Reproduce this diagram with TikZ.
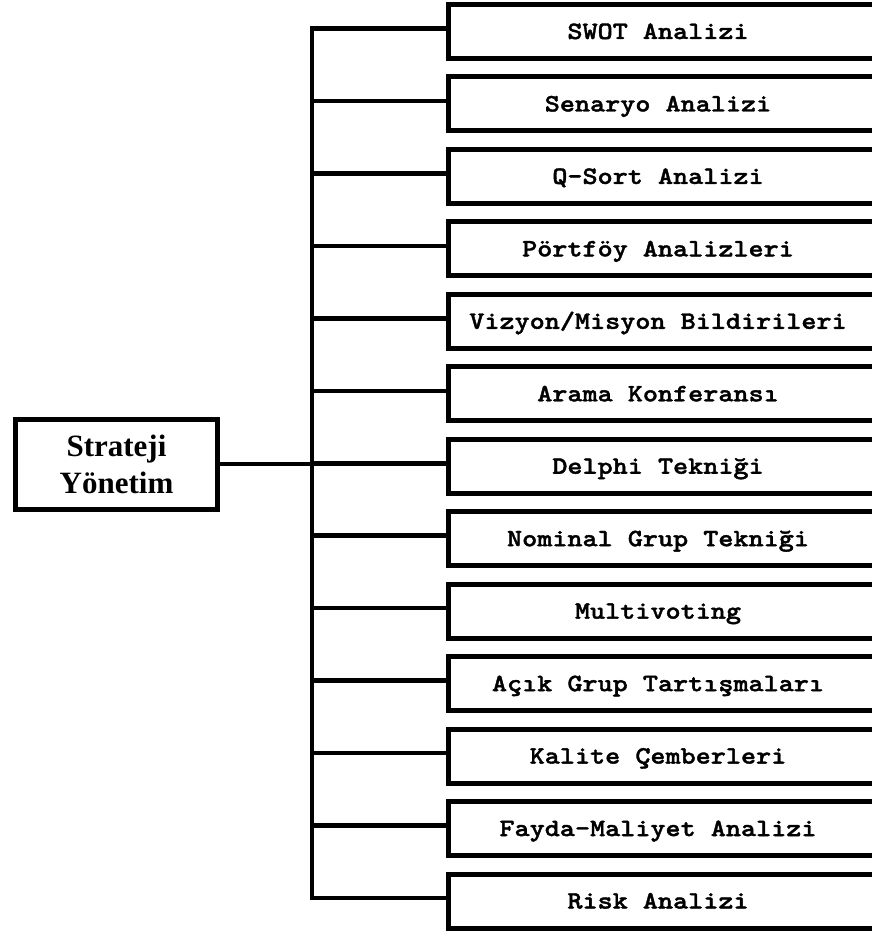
\documentclass[tikz,border=0pt]{standalone}
\usepackage{fontspec}
\setmainfont{Liberation Serif}
\newfontfamily\courb{lmmonolt10-bold}[Extension=.otf, FakeStretch=1.15, FakeBold=1.5]
\begin{document}
\begin{tikzpicture}[x=1pt,y=-1pt,
  itembox/.style={draw=black, line width=5pt, fill=white, minimum width=461.5pt, minimum height=54pt, inner sep=0pt},
  itemlbl/.style={anchor=base, inner sep=0pt, font=\courb\fontsize{25}{28}\selectfont},
  mainbox/.style={draw=black, line width=5pt, fill=white, minimum width=202pt, minimum height=90pt, inner sep=0pt, align=center, font=\bfseries\fontsize{31}{37}\selectfont},
  conn/.style={draw=black, line width=4.6pt, line join=miter}]
\useasboundingbox (0,0) rectangle (871,936);
\coordinate (spine) at (312,0);
\foreach \i/\t in {1/{SWOT Analizi}, 2/{Senaryo Analizi}, 3/{Q-Sort Analizi}, 4/{Pörtföy Analizleri}, 5/{Vizyon/Misyon Bildirileri}, 6/{Arama Konferansı}, 7/{Delphi Tekniği}, 8/{Nominal Grup Tekniği}, 9/{Multivoting}, 10/{Açık Grup Tartışmaları}, 11/{Kalite Çemberleri}, 12/{Fayda-Maliyet Analizi}, 13/{Risk Analizi}} {
  \pgfmathsetmacro{\yc}{31.5+72.46*(\i-1)}
  \node[itembox] (b\i) at (679.25,\yc) {};
  \node[itemlbl] (t\i) at (658,\yc+7.5) {\t};
  \coordinate (c\i) at ([yshift=3pt]b\i.west);
}
\node[mainbox] (main) at (116.5,464) {Strateji\\Yönetim};
\draw[conn] (c1) -- (c1 -| spine) -- (c13 -| spine) -- (c13);
\foreach \i in {2,...,12} {
  \draw[conn] (c\i -| spine) -- (c\i);
}
\draw[conn] (main.east) -- (main.east -| b7.west);
\end{tikzpicture}
\end{document}
